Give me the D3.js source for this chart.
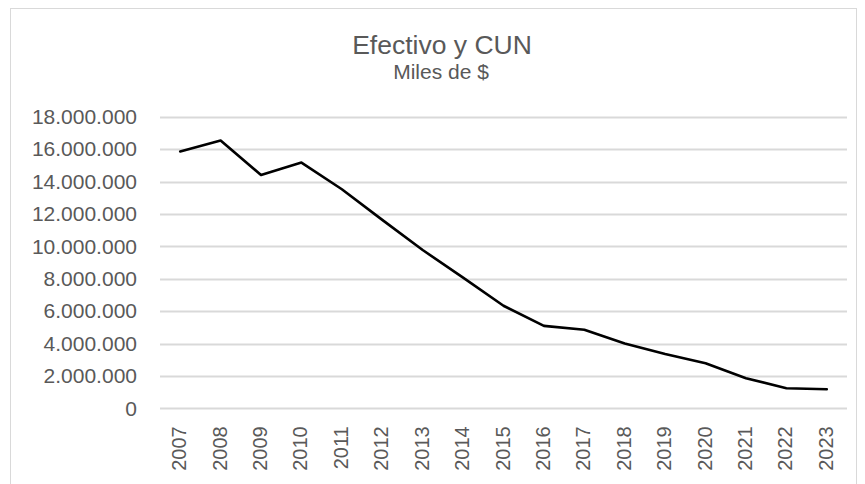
<!DOCTYPE html>
<html>
<head>
<meta charset="utf-8">
<script src="https://cdn.jsdelivr.net/npm/d3@7"></script>
<style>
  html, body { margin: 0; padding: 0; background: #fff; }
  svg { display: block; }
  text { font-family: "Liberation Sans", Arial, sans-serif; fill: #595959; }
</style>
</head>
<body>
<svg id="chart" width="865" height="484"></svg>
<script>
const years = ["2007","2008","2009","2010","2011","2012","2013","2014","2015","2016","2017","2018","2019","2020","2021","2022","2023"];
const efectivoCUN = [15850000, 16530000, 14400000, 15170000, 13520000, 11630000, 9770000, 8070000, 6330000, 5090000, 4850000, 4000000, 3350000, 2780000, 1860000, 1240000, 1180000];
const yTicks = [0, 2000000, 4000000, 6000000, 8000000, 10000000, 12000000, 14000000, 16000000, 18000000];
const titleText = "Efectivo y CUN";
const subtitleText = "Miles de $";

const svg = d3.select("#chart");

// chart frame
svg.append("rect")
  .attr("x", 10.5).attr("y", 8.5)
  .attr("width", 846).attr("height", 500)
  .attr("fill", "none").attr("stroke", "#d9d9d9").attr("stroke-width", 1);

const plot = { left: 160, right: 847, top: 116.7, bottom: 408.3 };

const x = d3.scaleBand().domain(years).range([plot.left, plot.right]);
const y = d3.scaleLinear().domain([0, 18000000]).range([plot.bottom, plot.top]);

const loc = d3.formatLocale({ decimal: ",", thousands: ".", grouping: [3], currency: ["$", ""] });
const fmt = loc.format(",.0f");

// gridlines
svg.append("g").selectAll("line").data(yTicks).join("line")
  .attr("x1", plot.left).attr("x2", plot.right)
  .attr("y1", d => Math.round(y(d)) + 0.5).attr("y2", d => Math.round(y(d)) + 0.5)
  .attr("stroke", "#d9d9d9").attr("stroke-width", 2);

// y axis
const yAxis = svg.append("g")
  .attr("transform", `translate(${plot.left},0)`)
  .call(d3.axisLeft(y).tickValues(yTicks).tickFormat(fmt).tickSize(0).tickPadding(23));
yAxis.select(".domain").remove();
yAxis.selectAll("text")
  .style("font-size", "21px").style("fill", "#595959")
  .style("font-family", "'Liberation Sans', Arial, sans-serif");

// x axis
const xAxis = svg.append("g")
  .attr("transform", `translate(-1,${plot.bottom})`)
  .call(d3.axisBottom(x).tickSize(0));
xAxis.select(".domain").remove();
xAxis.selectAll("text")
  .style("font-size", "20px").style("fill", "#595959")
  .style("font-family", "'Liberation Sans', Arial, sans-serif")
  .attr("text-anchor", "end")
  .attr("transform", "rotate(-90)")
  .attr("x", -18).attr("y", 0).attr("dy", "0.35em");

// line
const line = d3.line()
  .x((d, i) => x(years[i]) + x.bandwidth() / 2)
  .y(d => y(d));
svg.append("path")
  .datum(efectivoCUN)
  .attr("d", line)
  .attr("fill", "none")
  .attr("stroke", "#000")
  .attr("stroke-width", 2.6)
  .attr("stroke-linejoin", "round")
  .attr("stroke-linecap", "round");

// titles
svg.append("text")
  .attr("x", 442).attr("y", 54)
  .attr("text-anchor", "middle")
  .style("font-size", "26.5px")
  .text(titleText);
svg.append("text")
  .attr("x", 441).attr("y", 79)
  .attr("text-anchor", "middle")
  .style("font-size", "21px")
  .text(subtitleText);
</script>
</body>
</html>
